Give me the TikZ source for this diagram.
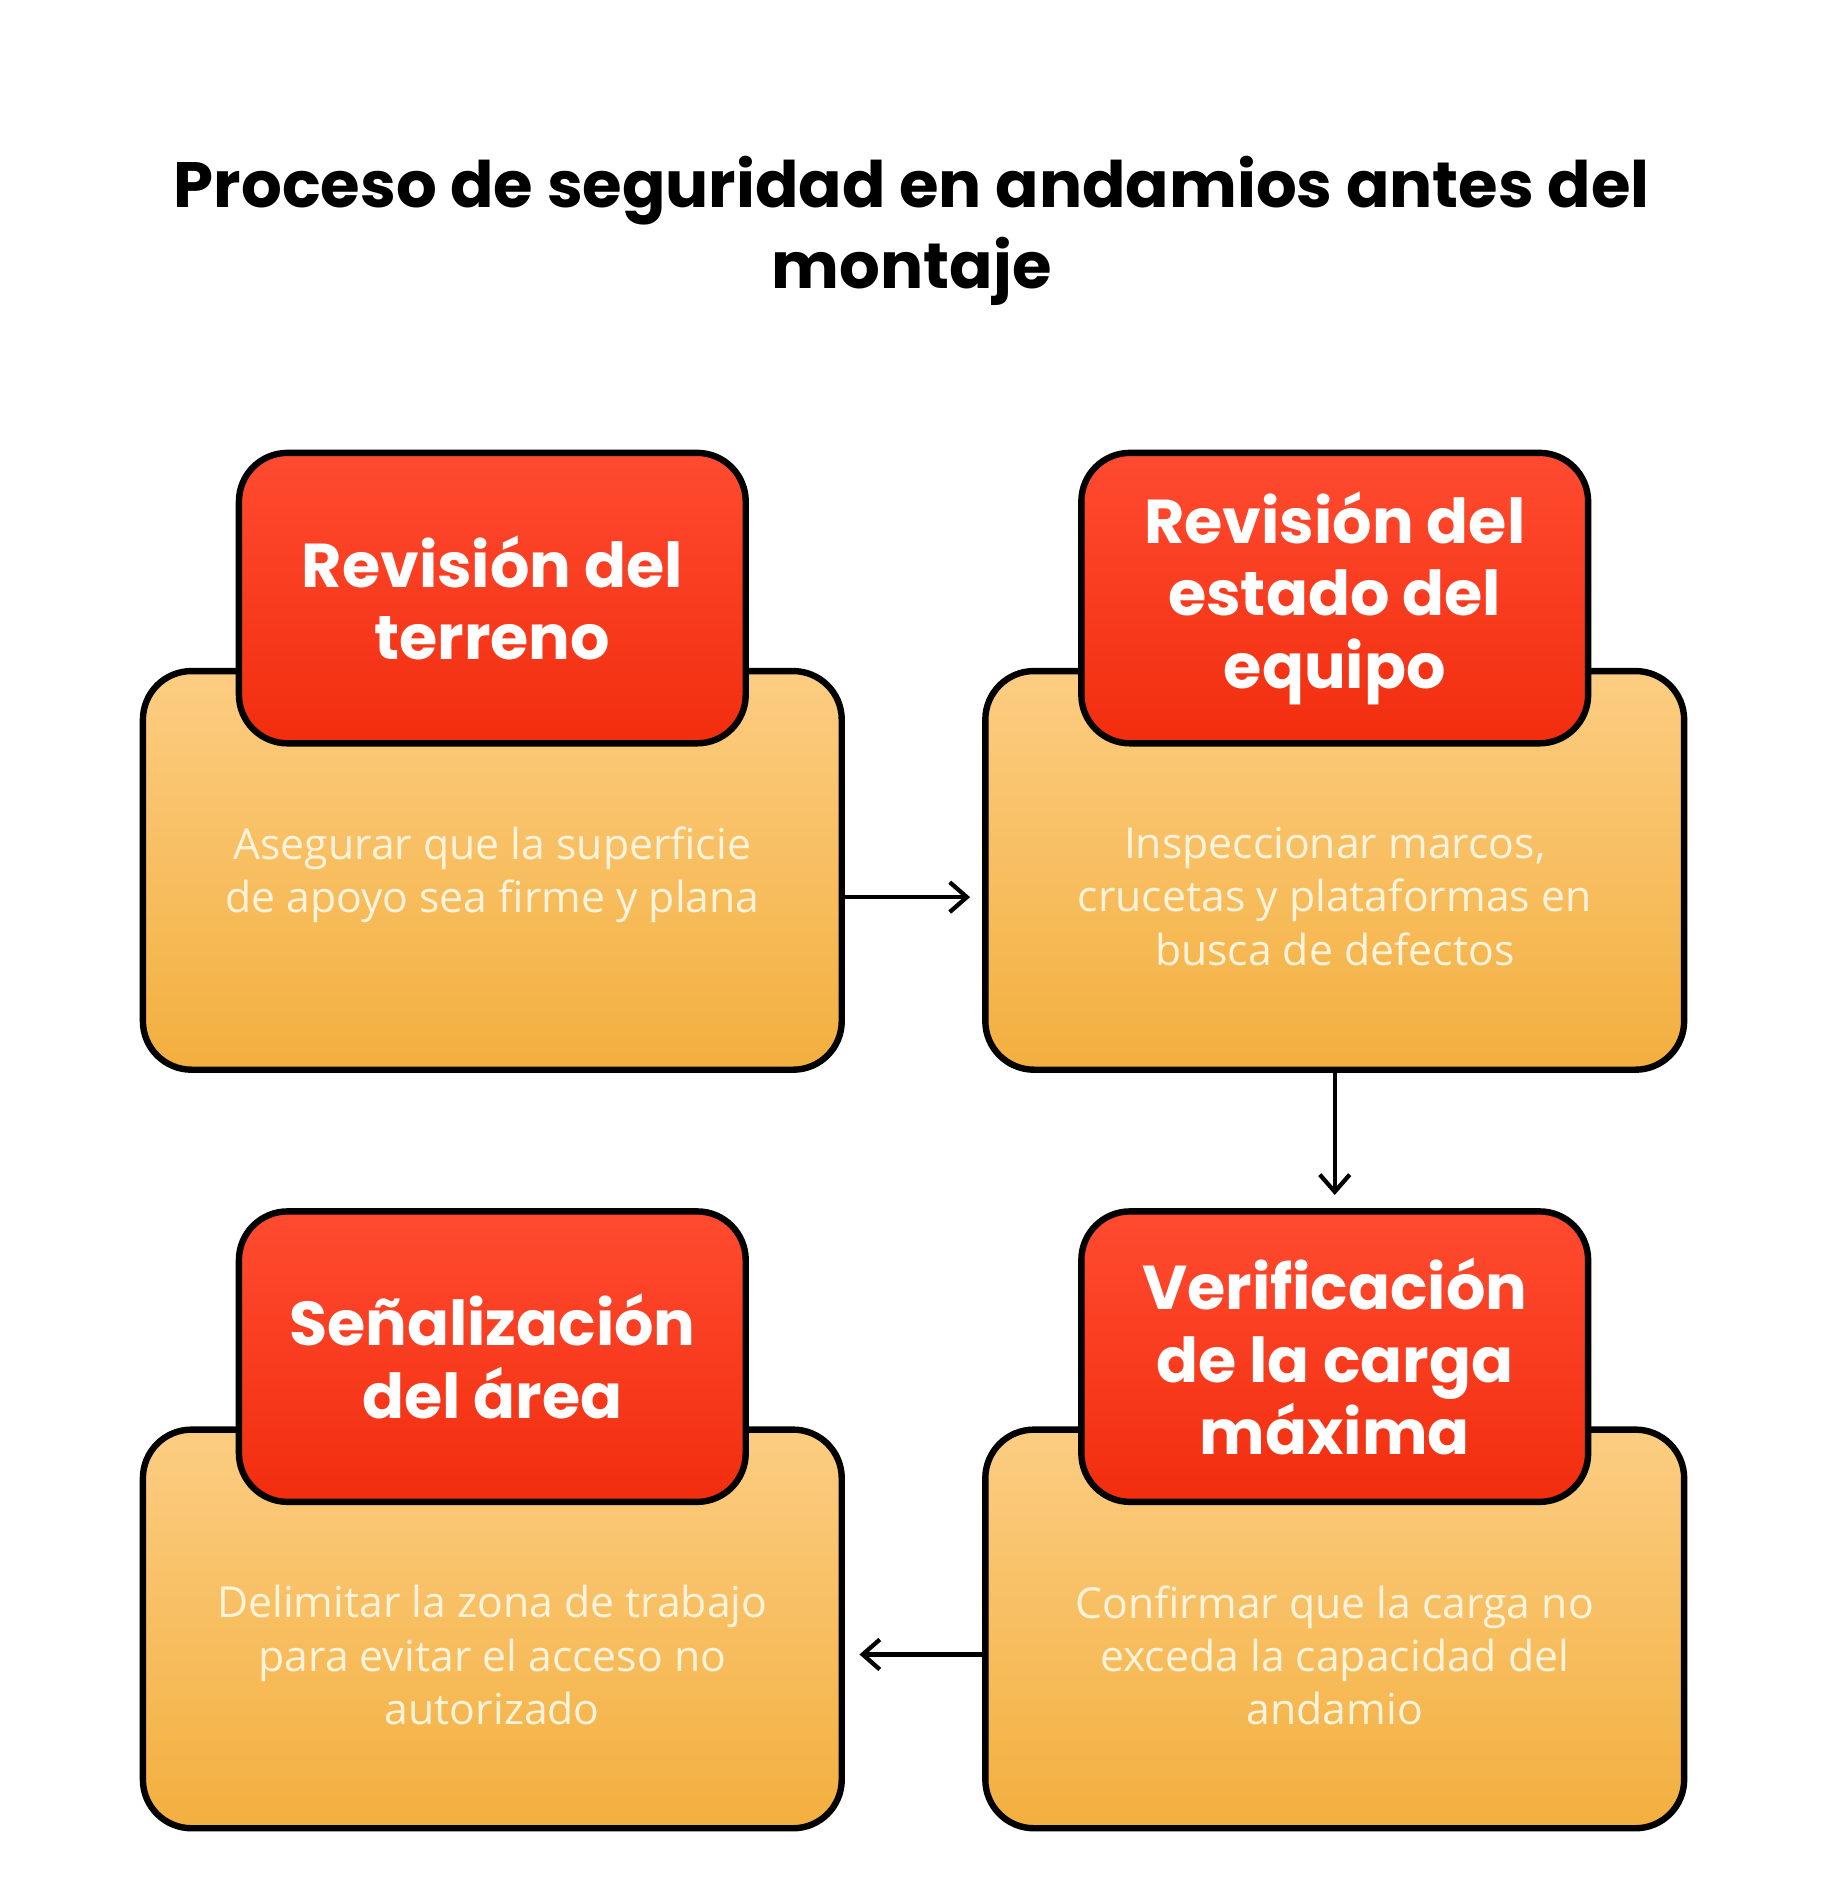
\documentclass[tikz,border=0pt]{standalone}
\usepackage{fontspec}
\setmainfont{Open Sans}
\newfontfamily\headfont{Poppins}
\usetikzlibrary{positioning}
\definecolor{orangetop}{HTML}{FCCD82}
\definecolor{orangebot}{HTML}{F3AF3E}
\definecolor{redtop}{HTML}{FF4B30}
\definecolor{redbot}{HTML}{F22D0E}
\definecolor{bodytext}{HTML}{FFF3DC}
\tikzset{
  card/.style={draw=black, line width=3pt, rounded corners=0.8cm,
    minimum width=11.5cm, minimum height=6.56cm,
    top color=orangetop, bottom color=orangebot},
  head/.style={draw=black, line width=3pt, rounded corners=0.8cm,
    minimum width=8.34cm, minimum height=4.78cm,
    top color=redtop, bottom color=redbot, text=white, align=center,
    font=\headfont\bfseries\fontsize{29}{34}\selectfont},
  body/.style={anchor=north, text=bodytext, align=center,
    font=\fontsize{20}{25}\selectfont},
  flow/.style={->, line width=2pt, >={Straight Barb[length=8pt,width=14pt]}}
}
\usetikzlibrary{arrows.meta}
\begin{document}
\begin{tikzpicture}[x=0.02cm,y=-0.02cm]
  \useasboundingbox (0,0) rectangle (1500,1563);
  \node[font=\headfont\bfseries\fontsize{30}{38}\selectfont, align=center] (title) at (750,190)
    {Proceso de seguridad en andamios antes del\\montaje};
  % tarjetas
  \node[card] (terreno) at (405,716) {};
  \node[card] (equipo) at (1098,716) {};
  \node[card] (area) at (405,1340) {};
  \node[card] (carga) at (1098,1340) {};
  \node[head] (hterreno) at (405,492) {Revisión del\\terreno};
  \node[head] (hequipo) at (1098,492) {Revisión del\\estado del\\equipo};
  \node[head] (harea) at (405,1116) {Señalización\\del área};
  \node[head] (hcarga) at (1098,1116) {Verificación\\de la carga\\máxima};
  \node[body] (tterreno) at (405,674) {Asegurar que la superficie\\de apoyo sea firme y plana};
  \node[body] (tequipo) at (1098,674) {Inspeccionar marcos,\\crucetas y plataformas en\\busca de defectos};
  \node[body] (tarea) at (405,1298) {Delimitar la zona de trabajo\\para evitar el acceso no\\autorizado};
  \node[body] (tcarga) at (1098,1298) {Confirmar que la carga no\\exceda la capacidad del\\andamio};
  % flechas
  \coordinate (a1) at (798,738);
  \coordinate (a2) at (1098,983);
  \coordinate (a3) at (707,1361);
  \draw[flow] (terreno.east |- a1) -- (a1);
  \draw[flow] (equipo.south) -- (a2);
  \draw[flow] (carga.west |- a3) -- (a3);
\end{tikzpicture}
\end{document}
